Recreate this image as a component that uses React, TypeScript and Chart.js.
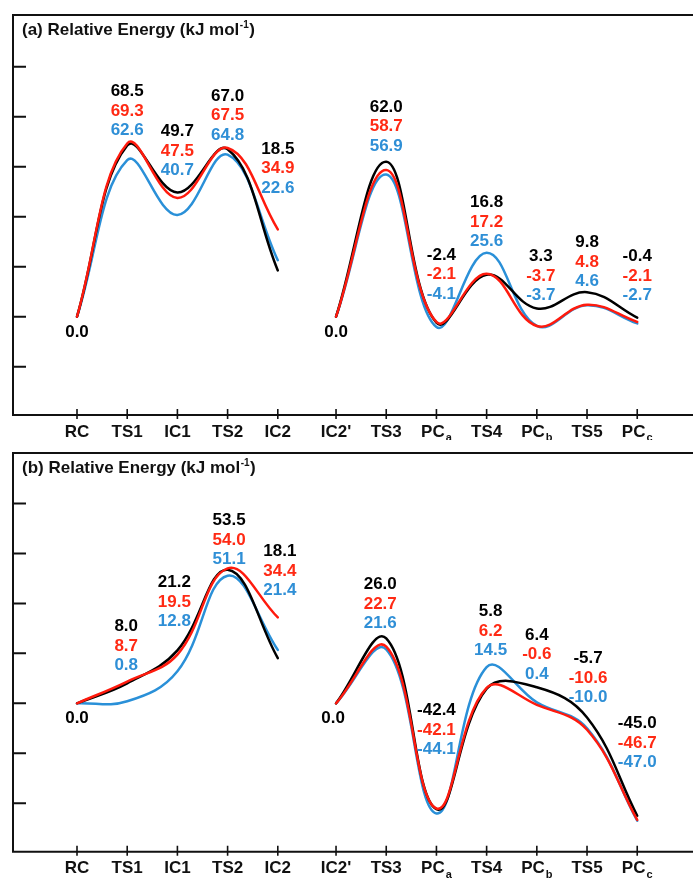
import React, { useEffect, useRef } from 'react';
import { Chart, registerables } from 'chart.js';

Chart.register(...registerables);

// ---------- data ----------
const categories = ['RC', 'TS1', 'IC1', 'TS2', 'IC2', "IC2'", 'TS3', 'PC_a', 'TS4', 'PC_b', 'TS5', 'PC_c'];
const leftSegmentCount = 5;

// panel (a)
const energyA_black = [0.0, 68.5, 49.7, 67.0, 18.5, 0.0, 62.0, -2.4, 16.8, 3.3, 9.8, -0.4];
const energyA_red = [0.0, 69.3, 47.5, 67.5, 34.9, 0.0, 58.7, -2.1, 17.2, -3.7, 4.8, -2.1];
const energyA_blue = [0.0, 62.6, 40.7, 64.8, 22.6, 0.0, 56.9, -4.1, 25.6, -3.7, 4.6, -2.7];
const yTicksA = [-20, 0, 20, 40, 60, 80, 100];

// panel (b)
const energyB_black = [0.0, 8.0, 21.2, 53.5, 18.1, 0.0, 26.0, -42.4, 5.8, 6.4, -5.7, -45.0];
const energyB_red = [0.0, 8.7, 19.5, 54.0, 34.4, 0.0, 22.7, -42.1, 6.2, -0.6, -10.6, -46.7];
const energyB_blue = [0.0, 0.8, 12.8, 51.1, 21.4, 0.0, 21.6, -44.1, 14.5, 0.4, -10.0, -47.0];
const yTicksB = [-40, -20, 0, 20, 40, 60, 80];

// ---------- layout / style ----------
const SEGMENT_GAP = 0.16;
const X_MIN = -1.275;
const X_MAX = 12.271;

// label placement (pixel lift of the lowest label above the highest point; null = "0.0" below)
const labelLiftA = [null, 12.7, 22, 13, 41.5, null, 15.7, 28, 11, 13, 10.5, 22];
const labelDxA = [0, 0, 0, 0, 0, 0, 0, 5, 0, 4, 0, 0];
const labelLiftB = [null, 16, 28.6, 9, 27, null, 15, 59, 16.3, 13.3, 20, 53];
const labelDxB = [0, -1, -3, 1.5, 2, -3, -6, 0, 4, 0, 1, 0];

const LINE_COLORS = ['#000000', '#ff1a0d', '#2a90d8'];
const TEXT_COLORS = ['#000000', '#ff2a14', '#2f8fd6'];
const FONT = '"Liberation Sans", Arial, Helvetica, sans-serif';
const NARROW = '"Liberation Sans Narrow", "Liberation Sans", Arial, sans-serif';

function xPos(i: number) {
  return i + (i >= leftSegmentCount ? SEGMENT_GAP : 0);
}

type Panel = {
  tag: string;
  series: number[][];
  yMin: number;
  yMax: number;
  yTicks: number[];
  lift: (number | null)[];
  dx: number[];
  padTop: number;
  padBottom: number;
};

const panelA: Panel = {
  tag: '(a)',
  series: [energyA_black, energyA_red, energyA_blue],
  yMin: -39.32,
  yMax: 120.68,
  yTicks: yTicksA,
  lift: labelLiftA,
  dx: labelDxA,
  padTop: 15,
  padBottom: 25,
};

const panelB: Panel = {
  tag: '(b)',
  series: [energyB_black, energyB_red, energyB_blue],
  yMin: -59.4,
  yMax: 100.2,
  yTicks: yTicksB,
  lift: labelLiftB,
  dx: labelDxB,
  padTop: 13,
  padBottom: 27.3,
};

function makeChart(canvas: HTMLCanvasElement, panel: Panel) {
  const datasets: any[] = [];
  // draw order: red on top, black middle, blue bottom
  const drawOrder = [1, 0, 2];
  panel.series.forEach((values, si) => {
    const segs = [
      values.slice(0, leftSegmentCount).map((v, i) => ({ x: xPos(i), y: v })),
      values.slice(leftSegmentCount).map((v, i) => ({ x: xPos(i + leftSegmentCount), y: v })),
    ];
    segs.forEach((data) => {
      datasets.push({
        data,
        borderColor: LINE_COLORS[si],
        borderWidth: 2.5,
        pointRadius: 0,
        fill: false,
        tension: 0.4,
        order: drawOrder[si],
      });
    });
  });

  const decor = {
    id: 'decor' + panel.tag,
    afterDraw(chart: any) {
      const { ctx, chartArea } = chart;
      const xs = chart.scales.x;
      const ys = chart.scales.y;
      const W = chart.width;
      const left = chartArea.left;
      const top = chartArea.top;
      const bottom = chartArea.bottom;
      ctx.save();
      ctx.strokeStyle = '#111111';
      ctx.lineWidth = 2;
      ctx.lineCap = 'butt';
      // frame
      ctx.beginPath();
      ctx.moveTo(W, top);
      ctx.lineTo(left, top);
      ctx.lineTo(left, bottom);
      ctx.lineTo(W, bottom);
      ctx.stroke();
      // y ticks (inward)
      ctx.beginPath();
      panel.yTicks.forEach((v) => {
        const y = ys.getPixelForValue(v);
        ctx.moveTo(left, y);
        ctx.lineTo(left + 13, y);
      });
      ctx.stroke();
      // x ticks (crossing the axis)
      ctx.lineWidth = 1.6;
      ctx.beginPath();
      categories.forEach((_, i) => {
        const x = xs.getPixelForValue(xPos(i));
        ctx.moveTo(x, bottom - 6);
        ctx.lineTo(x, bottom + 4);
      });
      ctx.stroke();

      // x labels
      ctx.fillStyle = '#111111';
      ctx.textBaseline = 'middle';
      categories.forEach((lab, i) => {
        const x = xs.getPixelForValue(xPos(i));
        const y = bottom + 17;
        const [main, sub] = lab.split('_');
        ctx.font = `bold 17px ${NARROW}`;
        const wMain = ctx.measureText(main).width;
        let wSub = 0;
        if (sub) {
          ctx.font = `bold 11px ${NARROW}`;
          wSub = ctx.measureText(sub).width + 1;
        }
        const start = x - (wMain + wSub) / 2;
        ctx.textAlign = 'left';
        ctx.font = `bold 17px ${NARROW}`;
        ctx.fillText(main, start, y);
        if (sub) {
          ctx.font = `bold 11px ${NARROW}`;
          ctx.fillText(sub, start + wMain + 1, y + 6);
        }
      });

      // title
      ctx.textAlign = 'left';
      ctx.textBaseline = 'middle';
      ctx.font = `bold 17px ${FONT}`;
      const t1 = `${panel.tag} Relative Energy (kJ mol`;
      const tx = left + 9;
      const ty = top + 15;
      ctx.fillText(t1, tx, ty);
      let w = ctx.measureText(t1).width;
      ctx.font = `bold 10px ${FONT}`;
      ctx.fillText('-1', tx + w + 0.5, ty - 5);
      w += ctx.measureText('-1').width + 1;
      ctx.font = `bold 17px ${FONT}`;
      ctx.fillText(')', tx + w, ty);

      // value labels
      ctx.textAlign = 'center';
      ctx.font = `bold 17px ${FONT}`;
      const spacing = 19.5;
      categories.forEach((_, i) => {
        const x = xs.getPixelForValue(xPos(i)) + panel.dx[i];
        const lift = panel.lift[i];
        if (lift === null) {
          const v = panel.series[0][i];
          ctx.fillStyle = TEXT_COLORS[0];
          ctx.fillText(v.toFixed(1), x, ys.getPixelForValue(v) + 15.5);
          return;
        }
        const maxV = Math.max(...panel.series.map((s) => s[i]));
        const yLow = ys.getPixelForValue(maxV) - lift;
        panel.series.forEach((s, k) => {
          ctx.fillStyle = TEXT_COLORS[k];
          ctx.fillText(s[i].toFixed(1), x, yLow - (2 - k) * spacing);
        });
      });
      ctx.restore();
    },
  };

  return new Chart(canvas, {
    type: 'line',
    data: { datasets },
    options: {
      animation: false,
      responsive: false,
      events: [],
      layout: { padding: { left: 13, top: panel.padTop, right: 0, bottom: panel.padBottom } },
      plugins: { legend: { display: false }, tooltip: { enabled: false }, title: { display: false } },
      scales: {
        x: { type: 'linear', min: X_MIN, max: X_MAX, display: false, bounds: 'data' },
        y: { type: 'linear', min: panel.yMin, max: panel.yMax, display: false, bounds: 'data' },
      },
      elements: { point: { radius: 0 }, line: { borderCapStyle: 'round', borderJoinStyle: 'round' } },
    } as any,
    plugins: [decor],
  });
}

export default function App() {
  const refA = useRef<HTMLCanvasElement>(null);
  const refB = useRef<HTMLCanvasElement>(null);

  useEffect(() => {
    const a = makeChart(refA.current!, panelA);
    const b = makeChart(refB.current!, panelB);
    return () => {
      a.destroy();
      b.destroy();
    };
  }, []);

  return (
    <div style={{ position: 'absolute', left: 0, top: 0, width: 693, height: 879, background: '#ffffff', overflow: 'hidden' }}>
      <canvas ref={refA} width={693} height={440} style={{ position: 'absolute', left: 0, top: 0 }} />
      <canvas ref={refB} width={693} height={439} style={{ position: 'absolute', left: 0, top: 440 }} />
    </div>
  );
}
